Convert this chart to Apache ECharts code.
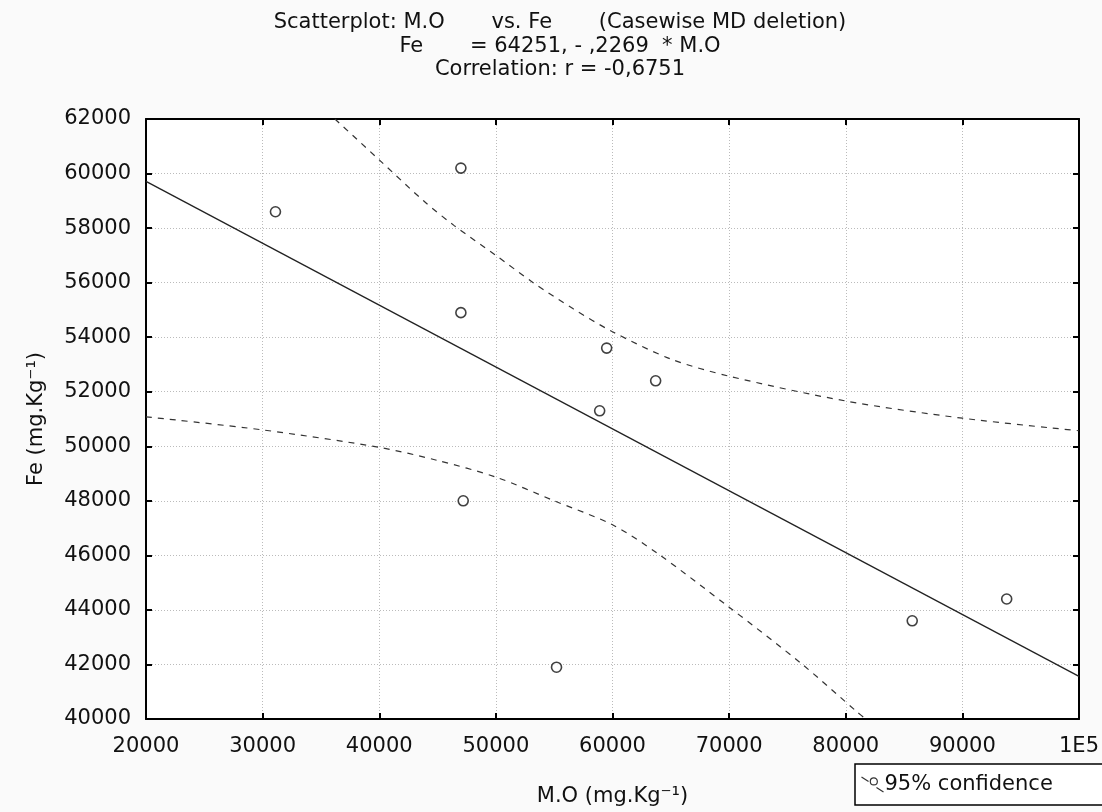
<!DOCTYPE html>
<html><head><meta charset="utf-8">
<script src="https://cdn.jsdelivr.net/npm/echarts@6/dist/echarts.min.js"></script>
<style>html,body{margin:0;padding:0;background:#fafafa}#c{width:1102px;height:812px}</style>
</head><body><div id="c"></div>
<script>
const titleLines = ['Scatterplot: M.O       vs. Fe       (Casewise MD deletion)', 'Fe       = 64251, - ,2269  * M.O', 'Correlation: r = -0,6751'];
const xTicks = [20000, 30000, 40000, 50000, 60000, 70000, 80000, 90000, 100000];
const xTickLabels = ['20000', '30000', '40000', '50000', '60000', '70000', '80000', '90000', '1E5'];
const yTicks = [40000, 42000, 44000, 46000, 48000, 50000, 52000, 54000, 56000, 58000, 60000, 62000];
const moValues = [31100, 47000, 47000, 59500, 63700, 58900, 47200, 55200, 85700, 93800];
const feValues = [58600, 60200, 54900, 53600, 52400, 51300, 48000, 41900, 43600, 44400];
const fitX = [20000, 100000];
const fitY = [59713, 41561];
const upperX = [36200, 40000, 43800, 46400, 50000, 53200, 56600, 60000, 65000, 70000, 80000, 90000, 100000];
const upperY = [62000, 60500, 59000, 58100, 57000, 56000, 55050, 54200, 53200, 52570, 51660, 51030, 50570];
const lowerX = [20000, 30000, 40000, 45000, 50000, 55000, 60000, 63800, 70000, 76200, 81000, 81700];
const lowerY = [51080, 50600, 49960, 49480, 48870, 48000, 47120, 46090, 44100, 42030, 40250, 40000];

const zip = (a, b) => a.map((v, i) => [v, b[i]]);
const chart = echarts.init(document.getElementById('c'));
const FONT = 'DejaVu Sans';
const dashStyle = {color: '#333', width: 1.2, type: [6, 6]};
const legendIcon = 'path://M0,0 L8,5 M14,9 A4,4 0 1,1 14.01,9 Z M17,12 L25,17';
chart.setOption({
  backgroundColor: '#fafafa',
  animation: false,
  title: {
    text: titleLines.join('\n'),
    left: 555, top: 6, textAlign: 'center',
    textStyle: {fontFamily: FONT, fontSize: 21, fontWeight: 'normal', color: '#111', lineHeight: 23.5}
  },
  legend: {
    data: [{name: '95% confidence', icon: legendIcon}],
    left: 855, top: 764,
    itemWidth: 22, itemHeight: 16, itemGap: 5,
    backgroundColor: '#fff', borderColor: '#000', borderWidth: 1.5,
    padding: [10, 60, 10, 4],
    itemStyle: {color: 'none', borderColor: '#333', borderWidth: 1.2},
    textStyle: {fontFamily: FONT, fontSize: 21, color: '#111', padding: [0, 0, 0, -4]}
  },
  grid: {left: 146, right: 23, top: 119, bottom: 89, show: true, backgroundColor: '#fff', borderWidth: 0},
  xAxis: [{
    type: 'value', min: 20000, max: 100000, interval: 10000,
    name: 'M.O (mg.Kg⁻¹)', nameLocation: 'middle', nameGap: 67,
    nameTextStyle: {fontFamily: FONT, fontSize: 21, color: '#111'},
    axisLine: {show: true, lineStyle: {color: '#000', width: 2}},
    axisTick: {show: true, inside: true, length: 6, lineStyle: {color: '#000', width: 2}},
    axisLabel: {margin: 17, fontFamily: FONT, fontSize: 21, color: '#111',
      formatter: v => xTickLabels[xTicks.indexOf(v)]},
    splitLine: {show: true, lineStyle: {color: '#bbb', type: [1, 2], width: 1}}
  }, {
    type: 'value', min: 20000, max: 100000, interval: 10000, position: 'top',
    axisLine: {show: true, lineStyle: {color: '#000', width: 2}},
    axisTick: {show: true, inside: true, length: 6, lineStyle: {color: '#000', width: 2}},
    axisLabel: {show: false}, splitLine: {show: false}
  }],
  yAxis: [{
    type: 'value', min: 40000, max: 62000, interval: 2000,
    name: 'Fe (mg.Kg⁻¹)', nameLocation: 'middle', nameGap: 99, nameRotate: 90,
    nameTextStyle: {fontFamily: FONT, fontSize: 21, color: '#111'},
    axisLine: {show: true, lineStyle: {color: '#000', width: 2}},
    axisTick: {show: true, inside: true, length: 6, lineStyle: {color: '#000', width: 2}},
    axisLabel: {margin: 15, fontFamily: FONT, fontSize: 21, color: '#111',
      formatter: v => yTicks.includes(v) ? String(v) : ''},
    splitLine: {show: true, lineStyle: {color: '#bbb', type: [1, 2], width: 1}}
  }, {
    type: 'value', min: 40000, max: 62000, interval: 2000, position: 'right',
    axisLine: {show: true, lineStyle: {color: '#000', width: 2}},
    axisTick: {show: true, inside: true, length: 6, lineStyle: {color: '#000', width: 2}},
    axisLabel: {show: false}, splitLine: {show: false}
  }],
  series: [
    {type: 'line', name: 'fit', data: zip(fitX, fitY), symbol: 'none', lineStyle: {color: '#222', width: 1.3}, silent: true, z: 3},
    {type: 'line', name: '95% confidence', data: zip(upperX, upperY), symbol: 'none', smooth: 0.3, lineStyle: dashStyle, z: 3},
    {type: 'line', name: '95% confidence', data: zip(lowerX, lowerY), symbol: 'none', smooth: 0.3, lineStyle: dashStyle, z: 3},
    {type: 'scatter', name: 'points', data: zip(moValues, feValues), symbol: 'circle', symbolSize: 10,
      itemStyle: {color: '#fff', borderColor: '#111', borderWidth: 1.6}, z: 4}
  ]
});
</script></body></html>
